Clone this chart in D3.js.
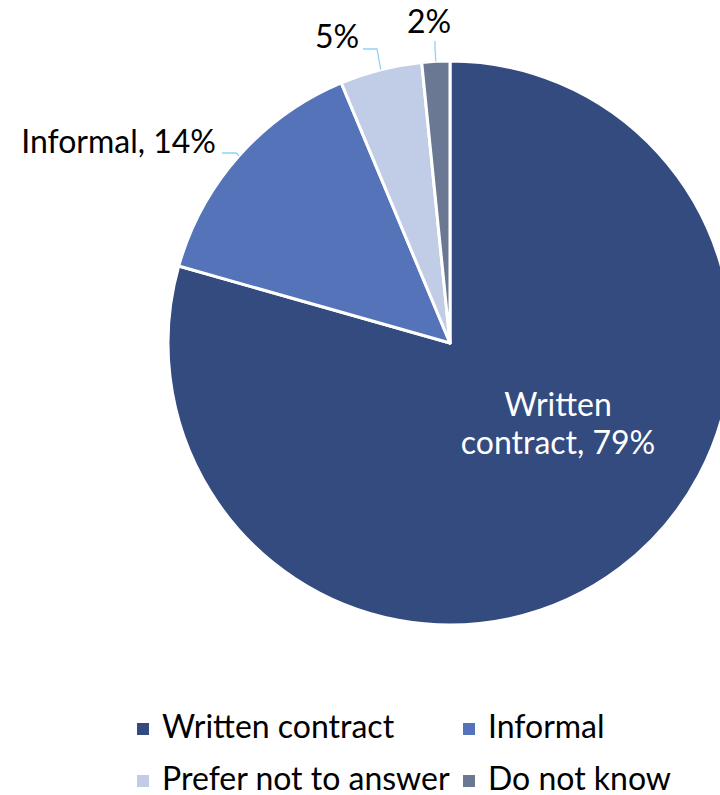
<!DOCTYPE html>
<html><head><meta charset="utf-8">
<script src="https://cdn.jsdelivr.net/npm/d3@7"></script>
<style>html,body{margin:0;padding:0;background:#fff;}svg{display:block;font-family:Lato,"Open Sans",sans-serif;}</style>
</head><body>
<svg id="c" width="720" height="795"></svg>
<script>
const categories = ["Written contract", "Informal", "Prefer not to answer", "Do not know"];
const values = [79.4, 14.3, 4.7, 1.6];
const labels = ["79%", "14%", "5%", "2%"];
const colors = ["#344B80", "#5573B8", "#C1CCE6", "#6A7894"];

const svg = d3.select("#c");
const cx = 450, cy = 343, r = 282;
const fs = 32;
const data = categories.map((c, i) => ({cat: c, value: values[i], color: colors[i]}));
const pie = d3.pie().value(d => d.value).sort(null);
const arcs = pie(data);
const arc = d3.arc().innerRadius(0).outerRadius(r);
const g = svg.append("g").attr("transform", `translate(${cx},${cy})`);
g.selectAll("path").data(arcs).join("path")
  .attr("d", arc).attr("fill", d => d.data.color)
  .attr("stroke", "#fff").attr("stroke-width", 3).attr("stroke-linejoin", "round");

// Inside label for Written contract
const ta = d3.arc().innerRadius(0).outerRadius(r * 0.8);
const c0 = ta.centroid(arcs[0]);
const lx = cx + c0[0] + 40, ly = cy + c0[1];
const tx = svg.append("text").attr("fill", "#fff").attr("font-size", fs).attr("text-anchor", "middle");
tx.append("tspan").attr("x", lx).attr("y", ly - 17).text("Written");
tx.append("tspan").attr("x", lx).attr("y", ly + 21).text("contract, " + labels[0]);

// Outside labels with leader lines
const lead = "#8FD3F4";
function edge(d, rr) { const a = (d.startAngle + d.endAngle) / 2; return [cx + Math.sin(a) * rr, cy - Math.cos(a) * rr]; }
{
  const p = edge(arcs[1], r);
  svg.append("polyline").attr("points", `222,153 236,153 ${p[0]},${p[1]}`)
    .attr("fill", "none").attr("stroke", lead).attr("stroke-width", 1.3);
  svg.append("text").attr("x", 216).attr("y", 153).attr("text-anchor", "end").attr("font-size", fs).attr("fill", "#000")
    .text(`${categories[1]}, ${labels[1]}`);
}
{
  const p = edge(arcs[2], r);
  svg.append("polyline").attr("points", `363,49 377,49 ${p[0]},${p[1]}`)
    .attr("fill", "none").attr("stroke", lead).attr("stroke-width", 1.3);
  svg.append("text").attr("x", 337).attr("y", 48).attr("text-anchor", "middle").attr("font-size", fs).attr("fill", "#000")
    .text(labels[2]);
}
{
  const p = edge(arcs[3], r);
  svg.append("polyline").attr("points", `435,41 435,48 ${p[0]},${p[1]}`)
    .attr("fill", "none").attr("stroke", lead).attr("stroke-width", 1.3);
  svg.append("text").attr("x", 429).attr("y", 33).attr("text-anchor", "middle").attr("font-size", fs).attr("fill", "#000")
    .text(labels[3]);
}

// Legend
const legPos = [[137, 738], [463, 738], [137, 790], [463, 790]];
data.forEach((d, i) => {
  const [x, y] = legPos[i];
  svg.append("rect").attr("x", x).attr("y", y - 15).attr("width", 12).attr("height", 12).attr("fill", d.color);
  svg.append("text").attr("x", x + 25).attr("y", y).attr("font-size", fs).attr("fill", "#000").text(d.cat);
});
</script>
</body></html>
